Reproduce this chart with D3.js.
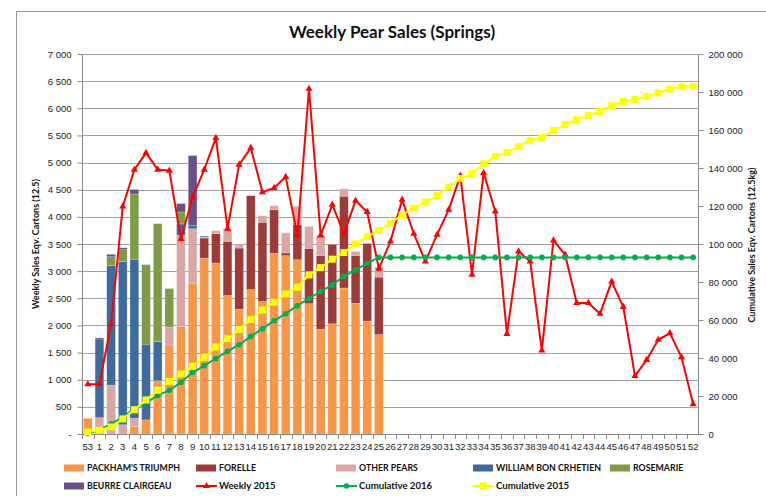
<!DOCTYPE html>
<html lang="en">
<head>
<meta charset="UTF-8">
<title>Weekly Pear Sales (Springs)</title>
<script src="https://d3js.org/d3.v7.min.js"></script>
<style>
  body { margin: 0; padding: 0; background: #fff; }
  svg { font-family: Lato, "Liberation Sans", sans-serif; }
  .grid line { stroke: #a3a3a3; stroke-width: 1.2px; }
  .axis path, .axis line { stroke: #8a8a8a; }
  .axis text { font-size: 9.5px; fill: #222; }
  .legend text { font-weight: bold; fill: #111; }
</style>
</head>
<body>
<div id="chart"></div>
<script>
// weeks, season runs from week 53 through week 52
const weeks = ["53"].concat(d3.range(1, 53).map(String));

// stacked weekly sales 2016 (cartons), weeks 53..25, nothing after
const packhams = [290, 0, 0, 0, 135, 260, 980, 1640, 1980, 2780, 3240, 3150, 2550, 2300, 2660, 2440, 3330, 3285, 3210, 2400, 1930, 2030, 2690, 2410, 2080, 1830];
const forelle = [0, 0, 0, 0, 0, 0, 0, 0, 0, 0, 370, 540, 1000, 1125, 1730, 1460, 800, 50, 645, 1020, 1360, 1460, 1690, 880, 1430, 1060];
const otherPears = [0, 300, 900, 170, 155, 0, 0, 330, 1680, 1000, 15, 55, 230, 60, 0, 120, 75, 370, 340, 405, 365, 0, 135, 75, 0, 185];
const williams = [0, 1450, 2200, 3010, 2930, 1395, 725, 0, 210, 60, 20, 0, 0, 0, 0, 0, 0, 0, 0, 0, 0, 0, 0, 0, 0, 0];
const rosemarie = [0, 0, 165, 215, 1200, 1465, 2170, 710, 220, 0, 0, 0, 0, 0, 0, 0, 0, 0, 0, 0, 0, 0, 0, 0, 0, 0];
const beurre = [0, 20, 45, 35, 85, 0, 0, 0, 155, 1290, 0, 0, 0, 0, 0, 0, 0, 0, 0, 0, 0, 0, 0, 0, 0, 0];

// weekly 2015 line (left axis)
const weekly2015 = [916, 916, 2023, 4193, 4871, 5179, 4871, 4852, 3592, 4360, 4871, 5455, 3782, 4963, 5271, 4453, 4533, 4736, 3659, 6359, 3659, 4225, 3690, 4299, 4090, 3044, 3549, 4317, 3690, 3179, 3672, 4133, 4760, 2934, 4810, 4102, 1845, 3364, 3179, 1537, 3567, 3303, 2414, 2414, 2216, 2809, 2340, 1068, 1364, 1735, 1858, 1414, 549];

// cumulative lines (right axis)
const cum2016 = [290, 2060, 5375, 8807, 13314, 16432, 20307, 22988, 27232, 32356, 35996, 39741, 43518, 47005, 51396, 55418, 59625, 63327, 67521, 71346, 74999, 78486, 83000, 86364, 89876, 92951,
  92951, 92951, 92951, 92951, 92951, 92951, 92951, 92951, 92951, 92951, 92951, 92951, 92951, 92951, 92951, 92951, 92951, 92951, 92951, 92951, 92951, 92951, 92951, 92951, 92951, 92951, 92951];
const cum2015 = [1050, 1950, 3690, 7900, 12800, 17910, 23010, 27740, 31600, 35650, 40390, 45820, 50200, 55000, 60300, 65310, 69370, 73740, 77250, 83750, 87600, 92010, 95500, 100070, 103930, 107090, 110980, 115190, 118880, 122040, 125520, 129940, 134480, 136950, 142220, 146070, 148170, 151330, 154490, 156070, 159760, 162920, 165390, 167660, 169760, 172760, 175030, 176080, 177660, 179450, 181560, 182770, 182930];

const leftTicks = d3.range(0, 7001, 500);
const rightTicks = d3.range(0, 200001, 20000);

const seriesNames = ["PACKHAM'S TRIUMPH", "FORELLE", "OTHER PEARS", "WILLIAM BON CRHETIEN", "ROSEMARIE", "BEURRE CLAIRGEAU"];
const seriesColors = ["#f79646", "#9c3b3a", "#dba6a6", "#3f6a9e", "#7f9b48", "#685089"];

const width = 766, height = 496;
const plot = { left: 82, right: 699, top: 54, bottom: 434 };

const svg = d3.select("#chart").append("svg")
  .attr("width", width)
  .attr("height", height);

// outer chart border (only left and top are inside the picture)
svg.append("rect")
  .attr("x", 16.5).attr("y", 11.5)
  .attr("width", 800).attr("height", 600)
  .attr("fill", "none").attr("stroke", "#9a9a9a");

const x = d3.scaleBand()
  .domain(weeks)
  .range([plot.left, plot.right])
  .paddingInner(0.25)
  .paddingOuter(0.125);

const yL = d3.scaleLinear().domain([0, 7000]).range([plot.bottom, plot.top]);
const yR = d3.scaleLinear().domain([0, 200000]).range([plot.bottom, plot.top]);

// gridlines
svg.append("g").attr("class", "grid")
  .selectAll("line")
  .data(leftTicks.slice(1))
  .join("line")
  .attr("x1", plot.left).attr("x2", plot.right)
  .attr("y1", d => Math.round(yL(d)) + 0.5)
  .attr("y2", d => Math.round(yL(d)) + 0.5);

// stacked bars
const rows = packhams.map((v, i) => ({
  week: weeks[i], s0: v, s1: forelle[i], s2: otherPears[i], s3: williams[i], s4: rosemarie[i], s5: beurre[i]
}));
const stack = d3.stack().keys(["s0", "s1", "s2", "s3", "s4", "s5"]);
const layers = stack(rows);

svg.append("g")
  .selectAll("g")
  .data(layers)
  .join("g")
  .attr("fill", (d, i) => seriesColors[i])
  .selectAll("rect")
  .data(d => d.filter(p => p[1] > p[0]))
  .join("rect")
  .attr("x", d => x(d.data.week))
  .attr("width", x.bandwidth())
  .attr("y", d => yL(d[1]))
  .attr("height", d => yL(d[0]) - yL(d[1]))
  .attr("stroke", "#ffffff")
  .attr("stroke-opacity", 0.35)
  .attr("stroke-width", 0.6);

// axes
const xAxis = d3.axisBottom(x).tickSize(0).tickPadding(9);
const gx = svg.append("g").attr("class", "axis")
  .attr("transform", `translate(0,${plot.bottom})`)
  .call(xAxis);
gx.select(".domain").remove();
svg.append("line")
  .attr("x1", plot.left).attr("x2", plot.right)
  .attr("y1", plot.bottom + 0.5).attr("y2", plot.bottom + 0.5)
  .attr("stroke", "#8a8a8a");
// category boundary ticks
svg.append("g")
  .selectAll("line")
  .data(weeks)
  .join("line")
  .attr("x1", d => Math.round(x(d) - x.step() * x.paddingInner() / 2) + 0.5)
  .attr("x2", d => Math.round(x(d) - x.step() * x.paddingInner() / 2) + 0.5)
  .attr("y1", plot.bottom)
  .attr("y2", plot.bottom + 5)
  .attr("stroke", "#8a8a8a");

const fmt = d => d === 0 ? "-" : d3.format(",")(d).replace(/,/g, " ");
const gl = svg.append("g").attr("class", "axis")
  .attr("transform", `translate(${plot.left + 0.5},0)`)
  .call(d3.axisLeft(yL).tickValues(leftTicks).tickFormat(fmt).tickSize(5).tickPadding(6));

const fmtR = d => d === 0 ? "0" : d3.format(",")(d).replace(/,/g, " ");
const gr = svg.append("g").attr("class", "axis")
  .attr("transform", `translate(${plot.right - 0.5},0)`)
  .call(d3.axisRight(yR).tickValues(rightTicks).tickFormat(fmtR).tickSize(5).tickPadding(5));
gl.select(".domain").attr("d", `M0,${plot.top}V${plot.bottom}`);
gr.select(".domain").attr("d", `M0,${plot.top}V${plot.bottom}`);

// lines
const cx = d => x(d) + x.bandwidth() / 2;

const lineL = d3.line().x((d, i) => cx(weeks[i])).y(d => yL(d));
const lineR = d3.line().x((d, i) => cx(weeks[i])).y(d => yR(d));

svg.append("path")
  .attr("d", lineL(weekly2015))
  .attr("fill", "none").attr("stroke", "#ff0000").attr("stroke-width", 2);
svg.append("g").selectAll("path")
  .data(weekly2015)
  .join("path")
  .attr("d", d3.symbol(d3.symbolTriangle, 22))
  .attr("transform", (d, i) => `translate(${cx(weeks[i])},${yL(d)})`)
  .attr("fill", "#ff0000");

svg.append("path")
  .attr("d", lineR(cum2016))
  .attr("fill", "none").attr("stroke", "#00b050").attr("stroke-width", 2);
svg.append("g").selectAll("circle")
  .data(cum2016)
  .join("circle")
  .attr("cx", (d, i) => cx(weeks[i]))
  .attr("cy", d => yR(d))
  .attr("r", 2.8)
  .attr("fill", "#00b050");

svg.append("path")
  .attr("d", lineR(cum2015))
  .attr("fill", "none").attr("stroke", "#ffff00").attr("stroke-width", 2);
svg.append("g").selectAll("rect")
  .data(cum2015)
  .join("rect")
  .attr("x", (d, i) => cx(weeks[i]) - 3.5)
  .attr("y", d => yR(d) - 3.5)
  .attr("width", 7).attr("height", 7)
  .attr("fill", "#ffff00");

// titles
svg.append("text")
  .attr("x", 392).attr("y", 38)
  .attr("text-anchor", "middle")
  .attr("font-size", "17px").attr("font-weight", "bold").attr("fill", "#111")
  .text("Weekly Pear Sales (Springs)");

svg.append("text")
  .attr("transform", "translate(39,244) rotate(-90)")
  .attr("text-anchor", "middle")
  .attr("font-size", "9px").attr("font-weight", "bold").attr("fill", "#111")
  .text("Weekly Sales Eqv. Cartons (12.5)");

svg.append("text")
  .attr("transform", "translate(755,245) rotate(-90)")
  .attr("text-anchor", "middle")
  .attr("font-size", "9px").attr("font-weight", "bold").attr("fill", "#111")
  .text("Cumulative Sales Eqv. Cartons (12.5kg)");

// legend
const legendCols = [64, 196, 336, 473, 610];
const legendItems = seriesNames.map((n, i) => ({ name: n, color: seriesColors[i], type: "bar" }))
  .concat([
    { name: "Weekly 2015", color: "#ff0000", type: "tri" },
    { name: "Cumulative 2016", color: "#00b050", type: "dot" },
    { name: "Cumulative 2015", color: "#ffff00", type: "sq" }
  ]);

const lg = svg.append("g").attr("class", "legend")
  .selectAll("g")
  .data(legendItems)
  .join("g")
  .attr("transform", (d, i) => `translate(${legendCols[i % 5]},${i < 5 ? 468 : 486})`);

lg.filter(d => d.type === "bar").append("rect")
  .attr("x", 0).attr("y", -3.5).attr("width", 20).attr("height", 7)
  .attr("fill", d => d.color);
lg.filter(d => d.type !== "bar").append("line")
  .attr("x1", 0).attr("x2", 21).attr("y1", 0).attr("y2", 0)
  .attr("stroke", d => d.color).attr("stroke-width", 2);
lg.filter(d => d.type === "tri").append("path")
  .attr("d", d3.symbol(d3.symbolTriangle, 22))
  .attr("transform", "translate(10.5,0)")
  .attr("fill", "#ff0000");
lg.filter(d => d.type === "dot").append("circle")
  .attr("cx", 10.5).attr("cy", 0).attr("r", 2.8).attr("fill", "#00b050");
lg.filter(d => d.type === "sq").append("rect")
  .attr("x", 7).attr("y", -3.5).attr("width", 7).attr("height", 7).attr("fill", "#ffff00");
lg.append("text")
  .attr("x", 23).attr("y", 0).attr("dy", "0.35em")
  .attr("font-size", d => d.type === "bar" ? "8.8px" : "9.6px")
  .text(d => d.name);
</script>
</body>
</html>
